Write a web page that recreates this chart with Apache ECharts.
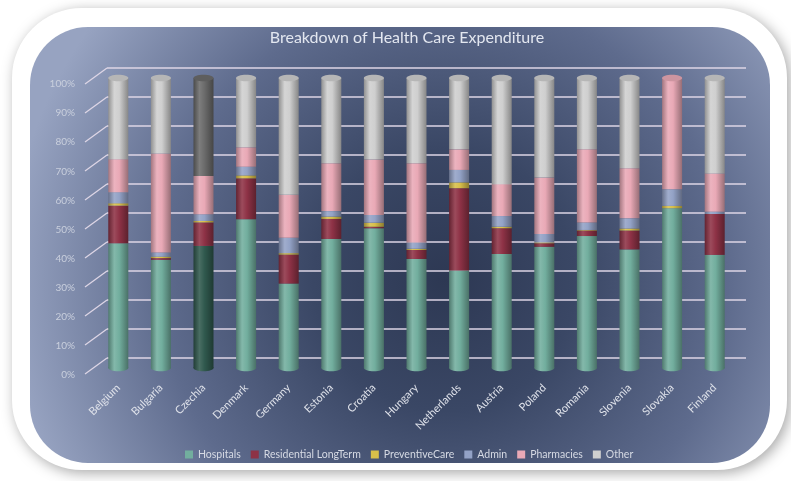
<!DOCTYPE html>
<html>
<head>
<meta charset="utf-8">
<script src="https://cdn.jsdelivr.net/npm/echarts@6/dist/echarts.min.js"></script>
<style>
  html, body { margin: 0; padding: 0; background: #ffffff; }
  #chart { width: 791px; height: 481px; }
</style>
</head>
<body>
<div id="chart"></div>
<script>
// Share of health care expenditure by function, per country (percent)
const countries = ['Belgium', 'Bulgaria', 'Czechia', 'Denmark', 'Germany', 'Estonia', 'Croatia',
  'Hungary', 'Netherlands', 'Austria', 'Poland', 'Romania', 'Slovenia', 'Slovakia', 'Finland'];
const hospitals   = [43.0, 37.3, 42.1, 51.3, 29.1, 44.5, 48.2, 37.6, 33.6, 39.3, 41.8, 45.5, 40.9, 55.1, 39.0];
const residential = [13.0, 0.6, 8.1, 14.1, 10.0, 6.9, 0.5, 3.1, 28.4, 8.9, 1.2, 1.9, 6.5, 0.0, 14.1];
const preventive  = [0.8, 0.5, 0.5, 1.0, 0.5, 0.8, 1.4, 0.4, 2.0, 0.5, 0.3, 0.2, 0.7, 0.8, 0.0];
const admin       = [3.8, 1.4, 2.3, 3.0, 5.3, 1.9, 2.7, 2.2, 4.3, 3.7, 2.9, 2.6, 3.5, 5.7, 0.8];
const pharmacies  = [11.4, 34.2, 13.2, 6.7, 14.8, 16.5, 19.1, 27.3, 7.1, 11.0, 19.5, 25.2, 17.3, 38.4, 13.2];
const other       = [28.0, 26.0, 33.8, 23.9, 40.3, 29.4, 28.1, 29.4, 24.6, 36.6, 34.3, 24.6, 31.1, 0.0, 32.9];
const yTicks = [0, 10, 20, 30, 40, 50, 60, 70, 80, 90, 100];

const seriesNames = ['Hospitals', 'Residential LongTerm', 'PreventiveCare', 'Admin', 'Pharmacies', 'Other'];
const seriesData = [hospitals, residential, preventive, admin, pharmacies, other];
const baseColors = ['#72ae9e', '#8e3246', '#d8bf4a', '#93a2c6', '#e9a9b6', '#cfcfcf'];
// Czechia is emphasised with darker tones for these functions
const accentCountry = 'Czechia';
const accentColors = { 0: '#30594e', 5: '#6b6b6b' };

function shade(hex, amt) {
  const n = parseInt(hex.slice(1), 16);
  let r = (n >> 16) & 255, g = (n >> 8) & 255, b = n & 255;
  const f = c => Math.round(amt >= 0 ? c + (255 - c) * amt : c * (1 + amt));
  r = f(r); g = f(g); b = f(b);
  return 'rgb(' + r + ',' + g + ',' + b + ')';
}
function cylinder(c) {
  return {
    type: 'linear', x: 0, y: 0, x2: 1, y2: 0,
    colorStops: [
      { offset: 0, color: shade(c, -0.3) },
      { offset: 0.3, color: shade(c, 0.12) },
      { offset: 0.55, color: c },
      { offset: 1, color: shade(c, -0.35) }
    ]
  };
}

const accentIdx = countries.indexOf(accentCountry);
function colorAt(s, i) {
  return (i === accentIdx && accentColors[s]) ? accentColors[s] : baseColors[s];
}

const totals = countries.map((_, i) => seriesData.reduce((a, arr) => a + arr[i], 0));
function topSeriesIndex(i) {
  for (let s = seriesData.length - 1; s >= 0; s--) if (seriesData[s][i] > 0) return s;
  return 0;
}

const barSeries = seriesNames.map((name, s) => ({
  name: name,
  type: 'bar',
  stack: 'total',
  xAxisIndex: 0, yAxisIndex: 0,
  barWidth: '47%',
  z: 3,
  itemStyle: { color: cylinder(baseColors[s]) },
  data: seriesData[s].map((v, i) => (i === accentIdx && accentColors[s])
    ? { value: v, itemStyle: { color: cylinder(accentColors[s]) } }
    : v)
}));

// Elliptical caps giving each stacked bar its rounded cylinder ends
function capSeries(atTop) {
  return {
    type: 'custom',
    xAxisIndex: 0, yAxisIndex: 0,
    z: atTop ? 4 : 1,
    silent: true,
    data: countries.map((c, i) => [i, atTop ? totals[i] : 0]),
    renderItem: function (params, api) {
      const i = api.value(0);
      const p = api.coord([i, api.value(1)]);
      const w = api.size([1, 0])[0] * 0.47;
      const s = atTop ? topSeriesIndex(i) : 0;
      const c = colorAt(s, i);
      return {
        type: 'ellipse',
        shape: { cx: p[0], cy: p[1], rx: w / 2, ry: 3.2 },
        style: atTop ? { fill: shade(c, -0.12) } : { fill: cylinder(c) }
      };
    }
  };
}

// Slanted floor ticks joining each percent label to the back wall
const wallTicks = {
  type: 'custom',
  xAxisIndex: 1, yAxisIndex: 1,
  z: 1,
  silent: true,
  data: yTicks.map(v => [0, v]),
  renderItem: function (params, api) {
    const y = api.coord([0, api.value(1)])[1];
    const x = params.coordSys.x;
    return {
      type: 'line',
      shape: { x1: x - 22, y1: y + 16, x2: x, y2: y },
      style: { stroke: '#ded6e6', lineWidth: 1.2 }
    };
  }
};

const chart = echarts.init(document.getElementById('chart'), null, { renderer: 'canvas' });
chart.setOption({
  animation: false,
  textStyle: { fontFamily: 'Lato, "Open Sans", sans-serif' },
  graphic: [
    {
      type: 'rect', z: -20,
      shape: { x: 12, y: 8, width: 775, height: 462, r: 70 },
      style: { fill: '#ffffff', shadowBlur: 14, shadowOffsetX: 3, shadowOffsetY: 3, shadowColor: 'rgba(0,0,0,0.35)' }
    },
    {
      type: 'rect', z: -19,
      shape: { x: 30, y: 27, width: 740, height: 436, r: 58 },
      style: {
        fill: {
          type: 'radial', x: 0.56, y: 0.58, r: 1.0,
          colorStops: [
            { offset: 0, color: '#2d3853' },
            { offset: 0.3, color: '#3a4765' },
            { offset: 0.65, color: '#5e6b8d' },
            { offset: 1, color: '#97a3c1' }
          ]
        }
      }
    }
  ],
  title: {
    text: 'Breakdown of Health Care Expenditure',
    left: 402, top: 25, textAlign: 'center',
    textStyle: { color: '#e3e7f0', fontSize: 16, fontWeight: 'normal' }
  },
  legend: {
    bottom: 16, left: 180,
    itemWidth: 8, itemHeight: 8, itemGap: 10,
    icon: 'rect',
    textStyle: { color: '#d6dae4', fontSize: 10.5 },
    data: seriesNames.map((n, s) => ({ name: n, itemStyle: { color: baseColors[s] } }))
  },
  grid: [
    { left: 97, right: 55, top: 78, height: 290 },   // bars
    { left: 107, right: 45, top: 68, height: 290 },  // back wall
    { left: 85, right: 45, top: 84, height: 291 }    // percent labels
  ],
  xAxis: [
    {
      gridIndex: 0, type: 'category', data: countries,
      axisLine: { show: false }, axisTick: { show: false },
      axisLabel: { rotate: 45, margin: 18, color: '#dfe2ea', fontSize: 11 }
    },
    { gridIndex: 1, type: 'category', data: countries, show: false },
    { gridIndex: 2, type: 'category', data: countries, show: false }
  ],
  yAxis: [
    { gridIndex: 0, type: 'value', min: 0, max: 100, show: false },
    {
      gridIndex: 1, type: 'value', min: 0, max: 100, interval: 10,
      axisLine: { show: false }, axisTick: { show: false }, axisLabel: { show: false },
      splitLine: { show: true, lineStyle: { color: '#ded6e6', width: 1.5 } }
    },
    {
      gridIndex: 2, type: 'value', min: 0, max: 100, interval: 10,
      axisLine: { show: false }, axisTick: { show: false }, splitLine: { show: false },
      axisLabel: { color: '#c9cfdd', fontSize: 10, margin: 10, formatter: v => v + '%' }
    }
  ],
  series: [capSeries(false)].concat(barSeries, [capSeries(true), wallTicks])
});
</script>
</body>
</html>
